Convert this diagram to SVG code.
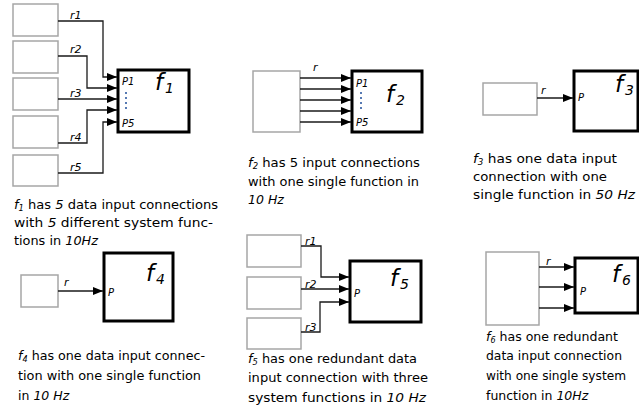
<svg xmlns="http://www.w3.org/2000/svg" width="639" height="408" viewBox="0 0 639 408">
<defs>
<marker id="arr" viewBox="0 0 10 8" refX="10" refY="4" markerWidth="10" markerHeight="8" markerUnits="userSpaceOnUse" orient="auto"><path d="M0,0 L10,4 L0,8 z" fill="#000"/></marker>
<style>
.src{fill:#fff;stroke:#a6a6a6;stroke-width:1.5}
.fn{fill:#fff;stroke:#000;stroke-width:3}
.w{fill:none;stroke:#1a1a1a;stroke-width:1.3;marker-end:url(#arr)}
.lb{font-family:"DejaVu Sans","Liberation Sans",sans-serif;font-style:italic;font-size:11px;fill:#000}
.pt{font-family:"DejaVu Sans","Liberation Sans",sans-serif;font-style:italic;font-size:10px;fill:#000}
.big{font-family:"DejaVu Sans","Liberation Sans",sans-serif;font-style:italic;font-size:23px;fill:#000}
.sub{font-family:"DejaVu Sans","Liberation Sans",sans-serif;font-style:italic;font-size:14px;fill:#000}
.cap{font-family:"DejaVu Sans","Liberation Sans",sans-serif;font-size:12.5px;fill:#000}
.it{font-style:italic}
.s{font-style:italic;font-size:8px}
.dot{fill:#1f4e9a}
</style>
</defs>
<rect width="639" height="408" fill="#fff"/>

<!-- Panel f1 -->
<g id="f1-sources">
<rect class="src" x="13" y="4" width="45" height="32"/>
<rect class="src" x="13" y="41" width="45" height="32"/>
<rect class="src" x="13" y="78" width="45" height="32"/>
<rect class="src" x="13" y="116" width="45" height="32"/>
<rect class="src" x="13" y="155" width="45" height="31"/>
</g>
<g id="f1">
<rect class="fn" x="118" y="70" width="71" height="62"/>
<text class="big" x="155" y="90">f</text><text class="sub" x="165" y="93">1</text>
<text class="pt" x="122" y="85">P1</text>
<text class="pt" x="122" y="127">P5</text>
<circle class="dot" cx="126" cy="93" r="1"/><circle class="dot" cx="126" cy="98" r="1"/><circle class="dot" cx="126" cy="103" r="1"/><circle class="dot" cx="126" cy="108" r="1"/>
</g>
<g id="f1-connectors">
<path class="w" d="M58,21 H103 V77 H117"/>
<path class="w" d="M58,56 H87 V88 H117"/>
<path class="w" d="M58,99 H117"/>
<path class="w" d="M58,143 H87 V110 H117"/>
<path class="w" d="M58,173 H103 V122 H117"/>
<text class="lb" x="70" y="19">r1</text>
<text class="lb" x="70" y="53">r2</text>
<text class="lb" x="70" y="97">r3</text>
<text class="lb" x="70" y="141">r4</text>
<text class="lb" x="70" y="171">r5</text>
</g>
<g id="f1-caption">
<text class="cap" x="14" y="209" textLength="204" lengthAdjust="spacingAndGlyphs"><tspan class="it">f</tspan><tspan class="s" dy="2">1</tspan><tspan dy="-2"> has </tspan><tspan class="it">5</tspan> data input connections</text>
<text class="cap" x="14" y="227" textLength="199" lengthAdjust="spacingAndGlyphs">with <tspan class="it">5</tspan> different system func-</text>
<text class="cap" x="14" y="245" textLength="84" lengthAdjust="spacingAndGlyphs">tions in <tspan class="it">10Hz</tspan></text>
</g>

<!-- Panel f2 -->
<g id="f2-source"><rect class="src" x="253" y="71" width="47" height="61"/></g>
<g id="f2">
<rect class="fn" x="352" y="71" width="70" height="61"/>
<text class="big" x="386" y="102">f</text><text class="sub" x="396" y="105">2</text>
<text class="pt" x="356" y="87">P1</text>
<text class="pt" x="356" y="126">P5</text>
<circle class="dot" cx="361" cy="93" r="1"/><circle class="dot" cx="361" cy="98" r="1"/><circle class="dot" cx="361" cy="103" r="1"/><circle class="dot" cx="361" cy="108" r="1"/>
</g>
<g id="f2-connectors">
<path class="w" d="M300,78 H351"/>
<path class="w" d="M300,89 H351"/>
<path class="w" d="M300,100 H351"/>
<path class="w" d="M300,111 H351"/>
<path class="w" d="M300,122 H351"/>
<text class="lb" x="313" y="71">r</text>
</g>
<g id="f2-caption">
<text class="cap" x="248" y="167" textLength="172" lengthAdjust="spacingAndGlyphs"><tspan class="it">f</tspan><tspan class="s" dy="2">2</tspan><tspan dy="-2"> has 5 input connections</tspan></text>
<text class="cap" x="248" y="186" textLength="171" lengthAdjust="spacingAndGlyphs">with one single function in</text>
<text class="cap" x="248" y="204"><tspan class="it">10 Hz</tspan></text>
</g>

<!-- Panel f3 -->
<g id="f3-source"><rect class="src" x="483" y="83" width="54" height="32"/></g>
<g id="f3">
<rect class="fn" x="574" y="71" width="64" height="60"/>
<text class="big" x="615" y="92">f</text><text class="sub" x="625" y="95">3</text>
<text class="pt" x="578" y="101">P</text>
</g>
<g id="f3-connectors">
<path class="w" d="M537,98 H573"/>
<text class="lb" x="541" y="94">r</text>
</g>
<g id="f3-caption">
<text class="cap" x="473" y="163" textLength="144" lengthAdjust="spacingAndGlyphs"><tspan class="it">f</tspan><tspan class="s" dy="2">3</tspan><tspan dy="-2"> has one data input</tspan></text>
<text class="cap" x="473" y="181" textLength="134" lengthAdjust="spacingAndGlyphs">connection with one</text>
<text class="cap" x="473" y="199" textLength="162" lengthAdjust="spacingAndGlyphs">single function in <tspan class="it">50 Hz</tspan></text>
</g>

<!-- Panel f4 -->
<g id="f4-source"><rect class="src" x="21" y="275" width="37" height="32"/></g>
<g id="f4">
<rect class="fn" x="104" y="253" width="69" height="68"/>
<text class="big" x="146" y="281">f</text><text class="sub" x="156" y="284">4</text>
<text class="pt" x="108" y="296">P</text>
</g>
<g id="f4-connectors">
<path class="w" d="M58,291 H103"/>
<text class="lb" x="64" y="286">r</text>
</g>
<g id="f4-caption">
<text class="cap" x="18" y="360" textLength="187" lengthAdjust="spacingAndGlyphs"><tspan class="it">f</tspan><tspan class="s" dy="2">4</tspan><tspan dy="-2"> has one data input connec-</tspan></text>
<text class="cap" x="18" y="380" textLength="183" lengthAdjust="spacingAndGlyphs">tion with one single function</text>
<text class="cap" x="18" y="400">in <tspan class="it">10 Hz</tspan></text>
</g>

<!-- Panel f5 -->
<g id="f5-sources">
<rect class="src" x="247" y="235" width="54" height="32"/>
<rect class="src" x="247" y="277" width="54" height="32"/>
<rect class="src" x="247" y="318" width="54" height="31"/>
</g>
<g id="f5">
<rect class="fn" x="350" y="261" width="71" height="61"/>
<text class="big" x="390" y="286">f</text><text class="sub" x="400" y="289">5</text>
<text class="pt" x="354" y="297">P</text>
</g>
<g id="f5-connectors">
<path class="w" d="M301,246 H321 V277 H349"/>
<path class="w" d="M301,289 H349"/>
<path class="w" d="M301,332 H320 V302 H349"/>
<text class="lb" x="305" y="245">r1</text>
<text class="lb" x="305" y="288">r2</text>
<text class="lb" x="305" y="331">r3</text>
</g>
<g id="f5-caption">
<text class="cap" x="248" y="363" textLength="169" lengthAdjust="spacingAndGlyphs"><tspan class="it">f</tspan><tspan class="s" dy="2">5</tspan><tspan dy="-2"> has one redundant data</tspan></text>
<text class="cap" x="248" y="382" textLength="180" lengthAdjust="spacingAndGlyphs">input connection with three</text>
<text class="cap" x="248" y="402" textLength="178" lengthAdjust="spacingAndGlyphs">system functions in <tspan class="it">10 Hz</tspan></text>
</g>

<!-- Panel f6 -->
<g id="f6-source"><rect class="src" x="486" y="252" width="53" height="73"/></g>
<g id="f6">
<rect class="fn" x="575" y="258" width="63" height="55"/>
<text class="big" x="612" y="282">f</text><text class="sub" x="622" y="285">6</text>
<text class="pt" x="580" y="295">P</text>
</g>
<g id="f6-connectors">
<path class="w" d="M539,267 H574"/>
<path class="w" d="M539,287 H574"/>
<path class="w" d="M539,308 H574"/>
<text class="lb" x="546" y="265">r</text>
</g>
<g id="f6-caption">
<text class="cap" x="486" y="341" textLength="132" lengthAdjust="spacingAndGlyphs"><tspan class="it">f</tspan><tspan class="s" dy="2">6</tspan><tspan dy="-2"> has one redundant</tspan></text>
<text class="cap" x="486" y="360" textLength="136" lengthAdjust="spacingAndGlyphs">data input connection</text>
<text class="cap" x="486" y="380" textLength="140" lengthAdjust="spacingAndGlyphs">with one single system</text>
<text class="cap" x="486" y="400">function in <tspan class="it">10Hz</tspan></text>
</g>
</svg>
